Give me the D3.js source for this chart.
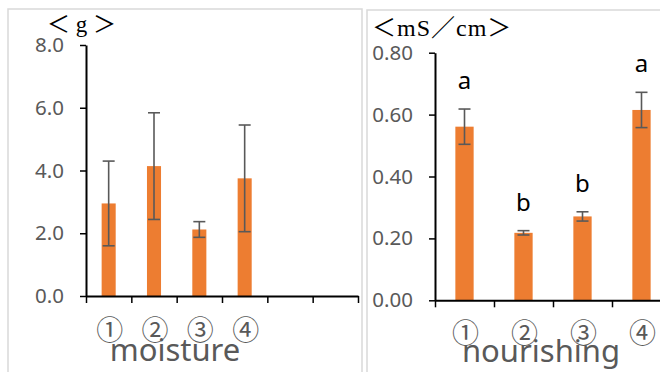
<!DOCTYPE html>
<html>
<head>
<meta charset="utf-8">
<script src="https://cdn.jsdelivr.net/npm/d3@7"></script>
<style>
  body { margin: 0; background: #fff; }
  svg { display: block; }
</style>
</head>
<body>
<div id="chart"></div>
<script>
// data
var labels = ["①", "②", "③", "④"];

var moistureMean = [2.95, 4.14, 2.12, 3.75];
var moistureErr  = [1.35, 1.70, 0.25, 1.70];
var moistureTicks = [0, 2, 4, 6, 8];

var nourishMean = [0.561, 0.218, 0.271, 0.615];
var nourishErr  = [0.057, 0.007, 0.015, 0.057];
var nourishLetters = ["a", "b", "b", "a"];
var nourishTicks = [0, 0.2, 0.4, 0.6, 0.8];

var W = 660, H = 372;
var barColor = "#ED7D31", grey = "#595959";

var svg = d3.select("#chart").append("svg")
    .attr("width", W)
    .attr("height", H);

// panel frames
svg.append("rect").attr("x", 8).attr("y", 9).attr("width", 354).attr("height", 380)
    .attr("fill", "none").attr("stroke", "#d9d9d9").attr("stroke-width", 1.5);
svg.append("rect").attr("x", 367).attr("y", 10).attr("width", 320).attr("height", 380)
    .attr("fill", "none").attr("stroke", "#d9d9d9").attr("stroke-width", 1.5);

function drawPanel(opt) {
    var g = svg.append("g");

    var x = d3.scaleLinear().domain([0, opt.slots]).range([opt.x0, opt.x1]);
    var y = d3.scaleLinear().domain([0, opt.ymax]).range([opt.y0, opt.y1]);
    var bw = (x(1) - x(0)) * 0.31;

    // bars
    g.selectAll(".bar")
        .data(opt.mean)
        .enter().append("rect")
        .attr("x", function(d, i) { return x(i + 0.5) - bw / 2; })
        .attr("y", function(d) { return y(d); })
        .attr("width", bw)
        .attr("height", function(d) { return y(0) - y(d); })
        .attr("fill", barColor);

    // error bars
    var eb = g.selectAll(".err")
        .data(opt.mean)
        .enter().append("g")
        .attr("stroke", grey)
        .attr("stroke-width", 1.6);
    eb.append("line")
        .attr("x1", function(d, i) { return x(i + 0.5); })
        .attr("x2", function(d, i) { return x(i + 0.5); })
        .attr("y1", function(d, i) { return y(d + opt.err[i]); })
        .attr("y2", function(d, i) { return y(d - opt.err[i]); });
    [1, -1].forEach(function(s) {
        eb.append("line")
            .attr("x1", function(d, i) { return x(i + 0.5) - 6; })
            .attr("x2", function(d, i) { return x(i + 0.5) + 6; })
            .attr("y1", function(d, i) { return y(d + s * opt.err[i]); })
            .attr("y2", function(d, i) { return y(d + s * opt.err[i]); });
    });

    // y axis
    var ya = g.append("g")
        .attr("transform", "translate(" + opt.x0 + ",0)")
        .call(d3.axisLeft(y).tickValues(opt.ticks).tickFormat(d3.format(opt.fmt))
            .tickSize(6).tickSizeOuter(0).tickPadding(16));
    ya.select(".domain").attr("stroke", "#000").attr("stroke-width", 2);
    ya.selectAll(".tick line").attr("stroke", "#000").attr("stroke-width", 1.5);
    ya.selectAll(".tick text").attr("fill", grey)
        .style("font-family", "'Noto Sans', sans-serif").style("font-size", "20.5px");

    // x axis, ticks between categories
    var xa = g.append("g")
        .attr("transform", "translate(0," + opt.y0 + ")")
        .call(d3.axisBottom(x).tickValues(d3.range(opt.slots + 1)).tickFormat("")
            .tickSize(7).tickSizeOuter(0));
    xa.select(".domain").attr("stroke", "#000").attr("stroke-width", 2);
    xa.selectAll(".tick line").attr("stroke", "#000").attr("stroke-width", 1.5);

    // category labels
    g.selectAll(".cat")
        .data(labels)
        .enter().append("text")
        .attr("x", function(d, i) { return x(i + 0.5) + 1; })
        .attr("y", opt.catY)
        .attr("text-anchor", "middle")
        .attr("dominant-baseline", "central")
        .attr("fill", grey)
        .style("font-family", "'Noto Sans CJK JP', sans-serif")
        .style("font-size", "27px")
        .text(function(d) { return d; });

    // axis title
    g.append("text")
        .attr("x", opt.titleX)
        .attr("y", opt.titleY)
        .attr("text-anchor", "middle")
        .attr("fill", grey)
        .style("font-family", "'Noto Sans', sans-serif")
        .style("font-size", "31px")
        .text(opt.title);

    // unit
    g.append("text")
        .attr("x", opt.unitX)
        .attr("y", opt.unitY)
        .attr("fill", "#000")
        .style("font-family", "'Liberation Serif', 'Noto Sans CJK JP', serif")
        .style("font-size", opt.unitSize)
        .style("letter-spacing", opt.unitSpacing)
        .text(opt.unit);

    // significance letters
    if (opt.letters) {
        g.selectAll(".sig")
            .data(opt.letters)
            .enter().append("text")
            .attr("x", function(d, i) { return x(i + 0.5); })
            .attr("y", function(d, i) { return y(opt.mean[i] + opt.err[i]) - 20; })
            .attr("text-anchor", "middle")
            .attr("fill", "#000")
            .style("font-family", "'Noto Sans', sans-serif")
            .style("font-size", "24px")
            .text(function(d) { return d; });
    }
}

drawPanel({
    mean: moistureMean, err: moistureErr, ticks: moistureTicks, fmt: ".1f",
    slots: 6, ymax: 8, x0: 86, x1: 358, y0: 296, y1: 45,
    catY: 328, title: "moisture", titleX: 175, titleY: 361,
    unit: "＜ g ＞", unitX: 47, unitY: 32, unitSize: "23px", unitSpacing: "0px"
});

drawPanel({
    mean: nourishMean, err: nourishErr, ticks: nourishTicks, fmt: ".2f",
    letters: nourishLetters,
    slots: 4, ymax: 0.8, x0: 435, x1: 671, y0: 300.3, y1: 52.7,
    catY: 331, title: "nourishing", titleX: 541, titleY: 362,
    unit: "＜mS／cm＞", unitX: 372, unitY: 36, unitSize: "24px", unitSpacing: "1px"
});
</script>
</body>
</html>
